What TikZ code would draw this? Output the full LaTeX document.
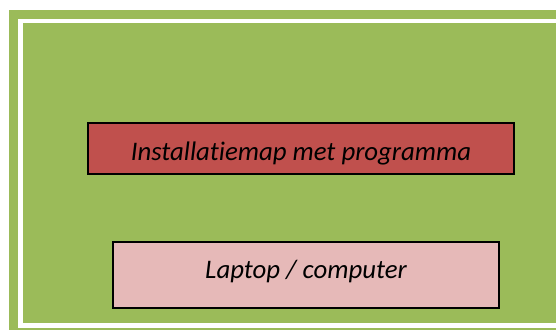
\documentclass[tikz,border=0pt]{standalone}
\usepackage{fontspec}
\setmainfont{Carlito}[Ligatures={NoCommon}]
\usepackage{xcolor}
\definecolor{olivegreen}{HTML}{9BBB59}
\definecolor{mapred}{HTML}{C0504D}
\definecolor{laptoppink}{HTML}{E6B9B8}
\tikzset{
mapbox/.style={rectangle, draw=black!100, fill=mapred, line width=1.5pt, inner sep=0pt, minimum width=426pt, minimum height=51pt, text height=24.4pt, text depth=0pt, font=\fontsize{26.8}{30}\selectfont\itshape},
laptopbox/.style={rectangle, draw=black!100, fill=laptoppink, line width=1.3pt, inner sep=0pt, minimum width=386pt, minimum height=66pt, text height=20pt, text depth=13pt, font=\fontsize{26.8}{30}\selectfont\itshape},
}
\begin{document}
\begin{tikzpicture}[x=1pt,y=-1pt]
  \useasboundingbox (0,0) rectangle (556,329);
  \clip (0,0) rectangle (556,329);
  % frame
  \fill[olivegreen] (9,10) rectangle (570,340);
  \draw[white,line width=4.4pt] (20.4,21) rectangle (580,325.4);

  \node[mapbox] at (301,148.5) (map) {Installatiemap met programma};
  \node[laptopbox] at (306,275) (laptop) {Laptop / computer};
\end{tikzpicture}
\end{document}
